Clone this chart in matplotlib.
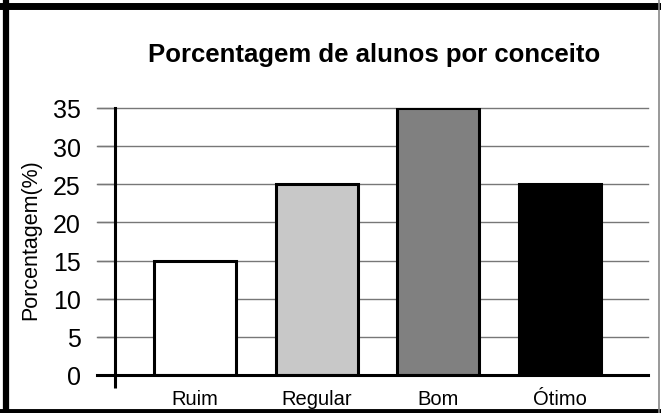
import matplotlib

matplotlib.use("Agg")
import matplotlib.pyplot as plt
from matplotlib.lines import Line2D

plt.rcParams["font.family"] = ["Liberation Sans", "DejaVu Sans"]

conceitos = ["Ruim", "Regular", "Bom", "Ótimo"]
porcentagens = [15, 25, 35, 25]
cores = ["#ffffff", "#c8c8c8", "#808080", "#000000"]
yticks = [0, 5, 10, 15, 20, 25, 30, 35]

fig = plt.figure(figsize=(6.61, 4.14), dpi=100)
W, H = 661, 414
ax = fig.add_axes([97 / W, 38 / H, 551 / W, 267 / H])

x = list(range(len(conceitos)))
ax.bar(x, porcentagens, width=0.675, color=cores, edgecolor="black",
       linewidth=2.2, zorder=3)

ax.set_xlim(-0.808, 3.727)
ax.set_ylim(0, 35)
ax.set_yticks(yticks)
ax.set_xticks(x)
ax.set_xticklabels(conceitos, fontsize=14.5)

# eixo y deslocado para a esquerda das barras
y_axis_x = -0.658
ax.spines["left"].set_position(("data", y_axis_x))
ax.spines["left"].set_linewidth(2.2)
ax.spines["bottom"].set_linewidth(2.2)
ax.spines["top"].set_visible(False)
ax.spines["right"].set_visible(False)
ax.spines["bottom"].set_zorder(4)

ax.grid(axis="y", color="#777777", linewidth=1, zorder=0)
for gl in ax.get_ygridlines():
    gl.set_clip_on(False)
ax.set_axisbelow(True)

ax.tick_params(axis="y", which="major", length=13, width=1, color="#777777",
               labelsize=18, pad=12)
ax.tick_params(axis="x", which="major", length=0, pad=10)
ax.set_xticks([y_axis_x], minor=True)
ax.tick_params(axis="x", which="minor", length=9.5, width=2.2, color="black")

ax.set_ylabel("Porcentagem(%)", fontsize=15.5)
ax.yaxis.set_label_coords(-0.102, 0.51)

fig.text(374 / W, 1 - 62 / H, "Porcentagem de alunos por conceito",
         fontsize=18.5, fontweight="bold", ha="center", va="baseline")

# moldura
fig.add_artist(Line2D([6 / W, 6 / W], [0, 1], color="black", linewidth=4.5))
fig.add_artist(Line2D([0, 1], [1 - 6.5 / H, 1 - 6.5 / H], color="black", linewidth=5))
fig.add_artist(Line2D([0, 1], [2 / H, 2 / H], color="black", linewidth=3.5))
fig.add_artist(Line2D([659 / W, 659 / W], [0, 1], color="#888888", linewidth=1.2))

fig.savefig("out.png", dpi=100)
